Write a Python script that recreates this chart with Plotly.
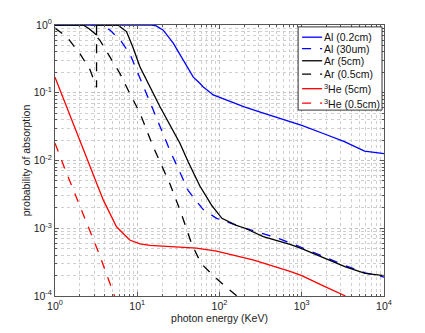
import plotly.graph_objects as go

# ==========================================
# DATA
# ==========================================

e_al_02 = [1, 15, 17, 20.7, 27.4, 36, 48, 57.7, 63, 84, 133, 200, 327, 500, 1000, 2000, 3300, 5800, 10000]
p_al_02 = [1, 1, 0.97, 0.84, 0.54, 0.30, 0.17, 0.138, 0.123, 0.093, 0.074, 0.062, 0.051, 0.043, 0.033, 0.024, 0.019, 0.0138, 0.0126]

e_al_30 = [1, 3.6, 4.66, 6.2, 8.1, 10.8, 15.6, 25, 30, 41.7, 50, 63, 92, 133, 205, 500, 1000, 3400, 5900, 10000]
p_al_30 = [1, 1, 0.84, 0.6, 0.38, 0.16, 0.056, 0.014, 0.0087, 0.0036, 0.0027, 0.0019, 0.0014, 0.0012, 0.001, 0.00072, 0.00052, 0.00028, 0.00022, 0.00019]

e_ar_5 = [1, 2.2, 2.6, 3.2, 3.2, 5.8, 7.4, 8.9, 10.8, 18.9, 33, 41.7, 57.7, 80, 107, 160, 205, 340, 720, 1000, 3400, 5900, 10000]
p_ar_5 = [1, 1, 0.88, 0.71, 1, 1, 0.8, 0.46, 0.24, 0.062, 0.018, 0.0095, 0.0042, 0.0022, 0.0014, 0.0011, 0.001, 0.00075, 0.00058, 0.0005, 0.00027, 0.000215, 0.0002]

e_ar_05 = [1, 1.39, 2.0, 2.66, 3.2, 3.2, 3.5, 4.66, 6.2, 8.1, 10.8, 15.6, 19.8, 25, 34, 46, 60, 84, 130, 163]
p_ar_05 = [0.9, 0.67, 0.38, 0.22, 0.12, 0.67, 0.6, 0.34, 0.19, 0.098, 0.05, 0.016, 0.0085, 0.0045, 0.0017, 0.00058, 0.0003, 0.0002, 0.000125, 0.0001]

e_he_5 = [1, 2.79, 3.87, 5.6, 8.1, 10.8, 14.3, 22.8, 52.6, 92, 255, 720, 1000, 1750, 3400]
p_he_5 = [0.17, 0.0072, 0.0026, 0.00105, 0.00067, 0.00059, 0.00056, 0.00054, 0.00051, 0.00046, 0.00034, 0.00023, 0.0002, 0.000145, 0.0001]

e_he_05 = [1, 1.32, 3.36, 5.3]
p_he_05 = [0.018, 0.0075, 0.00045, 0.0001]

names = ["Al (0.2cm)", "Al (30um)", "Ar (5cm)", "Ar (0.5cm)",
         "<sup>3</sup>He (5cm)", "<sup>3</sup>He (0.5cm)"]
energies = [e_al_02, e_al_30, e_ar_5, e_ar_05, e_he_5, e_he_05]
probs = [p_al_02, p_al_30, p_ar_5, p_ar_05, p_he_5, p_he_05]
colors = ["#0000ff", "#0000ff", "#000000", "#000000", "#ff0000", "#ff0000"]
dashes = ["solid", "dash", "solid", "dash", "solid", "dash"]

x_ticks = [1, 10, 100, 1000, 10000]
x_labels = ["10<sup>0</sup>", "10<sup>1</sup>", "10<sup>2</sup>", "10<sup>3</sup>", "10<sup>4</sup>"]
y_ticks = [1e-4, 1e-3, 1e-2, 1e-1, 1]
y_labels = ["10<sup>-4</sup>", "10<sup>-3</sup>", "10<sup>-2</sup>", "10<sup>-1</sup>", "10<sup>0</sup>"]

# ==========================================
# FIGURE
# ==========================================

fig = go.Figure()

for name, e, p, color, dash in zip(names, energies, probs, colors, dashes):
    fig.add_trace(
        go.Scatter(
            x=e,
            y=p,
            mode="lines",
            name=name,
            line=dict(color=color, width=1.3, dash=dash),
            showlegend=False,
        )
    )

# ==========================================
# LEGEND (compact, matlab style box)
# ==========================================

leg_rows = [0.955, 0.913, 0.868, 0.819, 0.765, 0.712]

fig.add_shape(
    type="rect", xref="paper", yref="paper",
    x0=0.739, x1=0.994, y0=0.686, y1=0.993,
    line=dict(color="#333333", width=1), fillcolor="white", layer="above",
)
for name, color, dash, yy in zip(names, colors, dashes, leg_rows):
    fig.add_shape(
        type="line", xref="paper", yref="paper",
        x0=0.751, x1=0.812, y0=yy, y1=yy,
        line=dict(color=color, width=1.3, dash=dash), layer="above",
    )
    fig.add_annotation(
        xref="paper", yref="paper", x=0.813, y=yy,
        text=name, showarrow=False, xanchor="left", yanchor="middle",
        font=dict(size=10.5, color="#111111"),
    )

axis_common = dict(
    type="log",
    automargin=False,
    showline=True,
    linecolor="#555555",
    linewidth=1,
    mirror="allticks",
    ticks="inside",
    ticklen=4,
    tickcolor="#555555",
    showgrid=True,
    gridcolor="#c4c4c4",
    griddash="dot",
    gridwidth=1,
    zeroline=False,
    minor=dict(
        dtick="D1",
        showgrid=True,
        gridcolor="#cfcfcf",
        griddash="dot",
        ticks="inside",
        ticklen=2,
        tickcolor="#555555",
    ),
    tickfont=dict(size=10.5, color="#222222"),
)

fig.update_xaxes(
    **axis_common,
    range=[0, 4],
    tickvals=x_ticks,
    ticktext=x_labels,
    title=dict(text="photon energy (KeV)", font=dict(size=10.5, color="#222222"), standoff=0),
)
fig.update_yaxes(
    **axis_common,
    range=[-4, 0],
    tickvals=y_ticks,
    ticktext=y_labels,
    title=dict(text="probability of absorption", font=dict(size=10.5, color="#222222"), standoff=1),
)

# the page body adds an 8px offset, so the figure is sized/margined to land
# the plot box where the reference has it
fig.update_layout(
    width=410,
    height=318,
    margin=dict(l=47, r=34, t=17, b=30),
    paper_bgcolor="white",
    plot_bgcolor="white",
    font=dict(family="Liberation Sans, Arial, sans-serif", size=10.5, color="#222222"),
    showlegend=False,
)

fig.write_html("out.html")
